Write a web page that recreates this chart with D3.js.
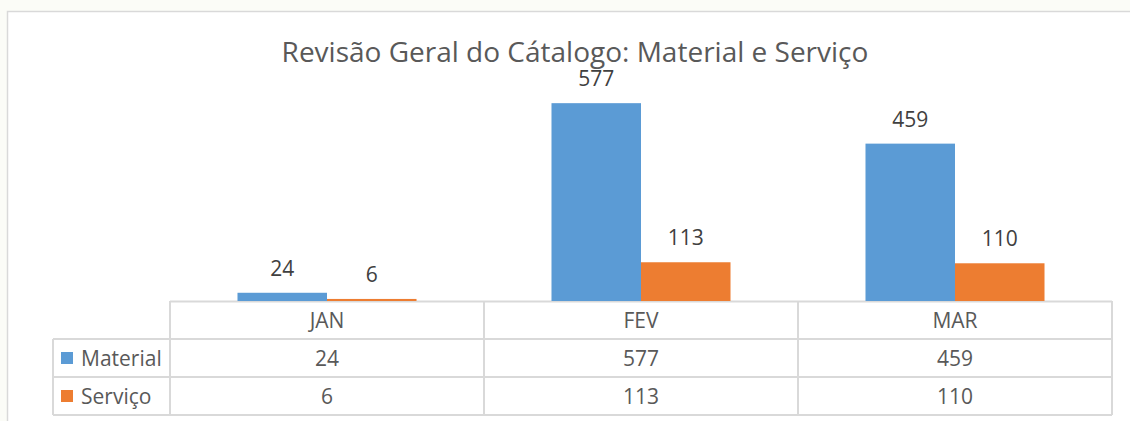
<!DOCTYPE html>
<html>
<head>
<meta charset="utf-8">
<script src="https://cdn.jsdelivr.net/npm/d3@7"></script>
<style>
  body { margin: 0; background: #fbfcf7; }
  svg { display: block; }
  text { font-family: "Open Sans", sans-serif; }
</style>
</head>
<body>
<div class="container"></div>
<script>
// data
const months = ["JAN", "FEV", "MAR"];
const seriesNames = ["Material", "Serviço"];
const material = [24, 577, 459];
const servico = [6, 113, 110];
const colors = ["#5b9bd5", "#ed7d31"];

const values = [material, servico];

const svg = d3.select(".container").append("svg")
    .attr("width", 1130)
    .attr("height", 421);

//chart frame
svg.append("rect")
    .attr("x", 7.5)
    .attr("y", 11.5)
    .attr("width", 1140)
    .attr("height", 430)
    .attr("fill", "#ffffff")
    .attr("stroke", "#d9d9d9")
    .attr("stroke-width", 1.5);

//title
svg.append("text")
    .attr("x", 575)
    .attr("y", 62)
    .attr("text-anchor", "middle")
    .attr("font-size", 28)
    .attr("fill", "#595959")
    .text("Revisão Geral do Cátalogo: Material e Serviço");

//scales
const x = d3.scaleBand()
    .domain(months)
    .range([170, 1112]);

const xInner = d3.scaleBand()
    .domain(seriesNames)
    .range([0, x.bandwidth()])
    .paddingOuter(0.754);

const y = d3.scaleLinear()
    .domain([0, 700])
    .range([301, 61]);

//data table grid (drawn under the bars)
const rowTop = [301, 339, 377];
const rowH = 38;
const tableRight = x.range()[1];
const legendLeft = 53;
const grid = svg.append("g")
    .attr("stroke", "#d9d9d9")
    .attr("stroke-width", 2)
    .attr("fill", "none");

// horizontal lines
grid.append("line").attr("x1", x.range()[0]).attr("x2", tableRight).attr("y1", rowTop[0] + 0.5).attr("y2", rowTop[0] + 0.5);
[rowTop[1], rowTop[2], rowTop[2] + rowH].forEach(yy => {
  grid.append("line").attr("x1", legendLeft).attr("x2", tableRight).attr("y1", yy).attr("y2", yy);
});
// vertical lines
months.forEach(m => {
  grid.append("line").attr("x1", x(m)).attr("x2", x(m)).attr("y1", rowTop[0]).attr("y2", rowTop[2] + rowH);
});
grid.append("line").attr("x1", tableRight).attr("x2", tableRight).attr("y1", rowTop[0]).attr("y2", rowTop[2] + rowH);
grid.append("line").attr("x1", legendLeft).attr("x2", legendLeft).attr("y1", rowTop[1]).attr("y2", rowTop[2] + rowH);

//bars
const groups = svg.append("g").selectAll("g")
    .data(seriesNames)
    .enter()
    .append("g")
    .attr("fill", (d, i) => colors[i]);

groups.selectAll("rect")
    .data((d, i) => values[i].map((v, j) => ({s: d, m: months[j], v: v})))
    .enter()
    .append("rect")
    .attr("x", d => x(d.m) + xInner(d.s))
    .attr("y", d => y(d.v))
    .attr("width", xInner.bandwidth())
    .attr("height", d => y(0) - y(d.v));

//data labels
groups.selectAll("text")
    .data((d, i) => values[i].map((v, j) => ({s: d, m: months[j], v: v})))
    .enter()
    .append("text")
    .attr("x", d => x(d.m) + xInner(d.s) + xInner.bandwidth() / 2)
    .attr("y", d => y(d.v) - 17)
    .attr("text-anchor", "middle")
    .attr("font-size", 21)
    .attr("fill", "#404040")
    .text(d => d.v);

// header
svg.append("g").selectAll("text")
    .data(months)
    .enter()
    .append("text")
    .attr("x", d => x(d) + x.bandwidth() / 2)
    .attr("y", rowTop[0] + rowH / 2)
    .attr("dy", "0.36em")
    .attr("text-anchor", "middle")
    .attr("font-size", 21)
    .attr("fill", "#595959")
    .text(d => d);

// rows
seriesNames.forEach((s, i) => {
  const cy = rowTop[i + 1] + rowH / 2;
  svg.append("rect")
      .attr("x", 61)
      .attr("y", cy - 6)
      .attr("width", 12)
      .attr("height", 12)
      .attr("fill", colors[i]);
  svg.append("text")
      .attr("x", 81)
      .attr("y", cy)
      .attr("dy", "0.36em")
      .attr("font-size", 21)
      .attr("fill", "#595959")
      .text(s);
  svg.append("g").selectAll("text")
      .data(values[i])
      .enter()
      .append("text")
      .attr("x", (d, j) => x(months[j]) + x.bandwidth() / 2)
      .attr("y", cy)
      .attr("dy", "0.36em")
      .attr("text-anchor", "middle")
      .attr("font-size", 21)
      .attr("fill", "#595959")
      .text(d => d);
});
</script>
</body>
</html>
